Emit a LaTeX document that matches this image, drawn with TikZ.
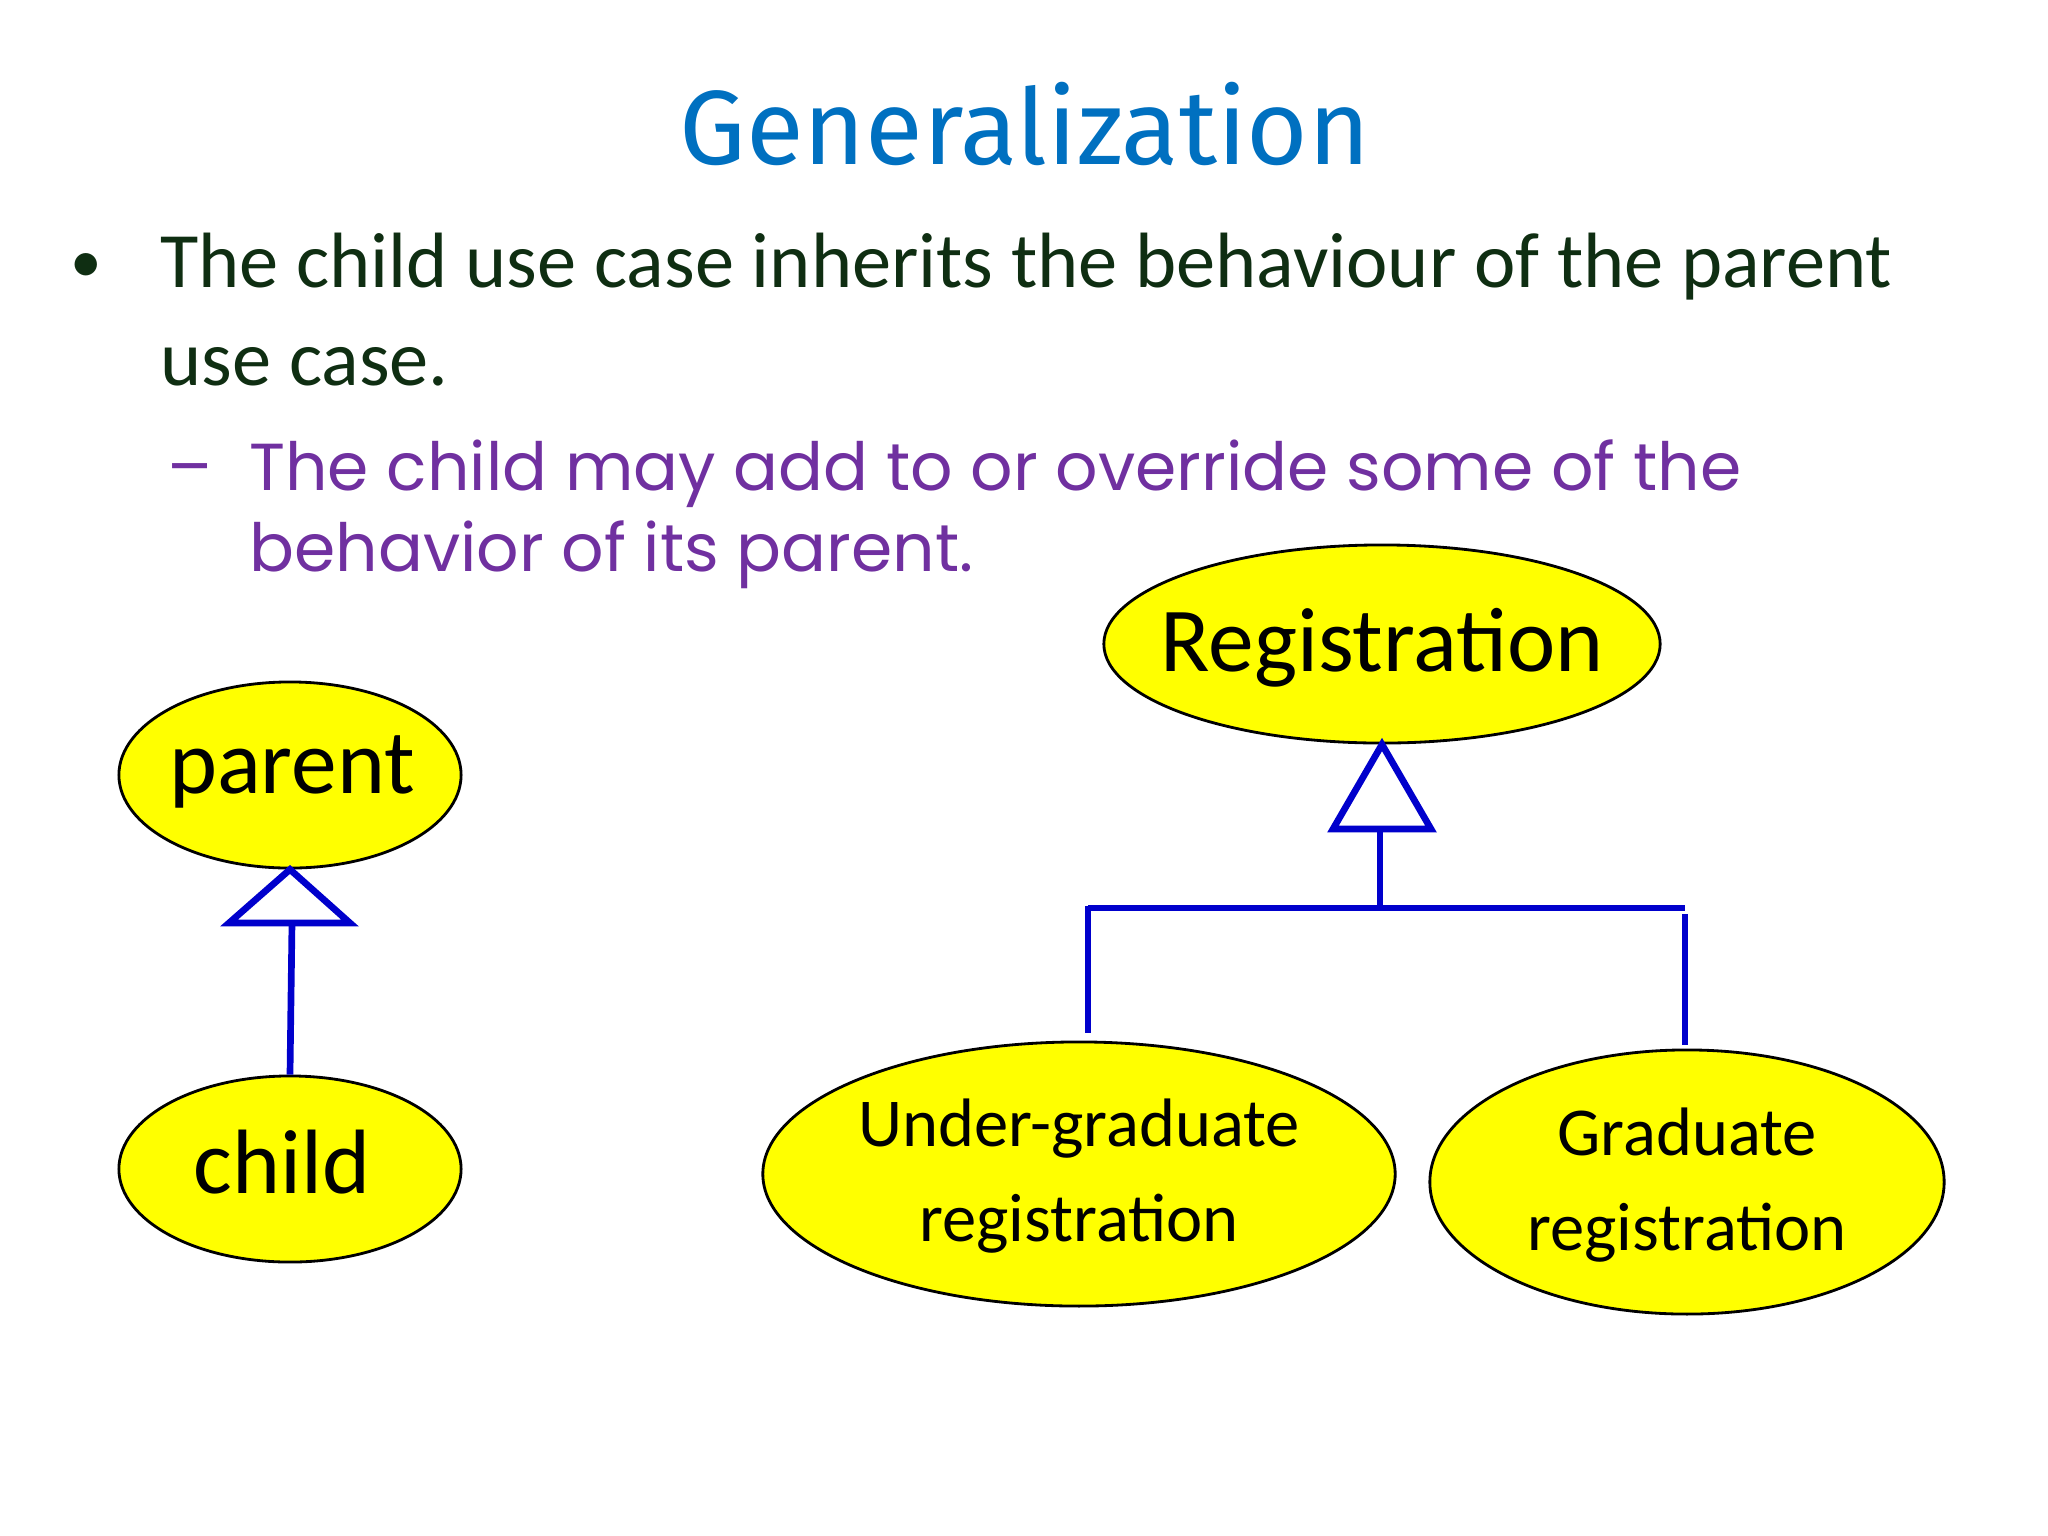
\documentclass[tikz,border=0pt]{standalone}
\usepackage{fontspec}
\setmainfont{Carlito}
\newfontfamily\titlefont{Fira Sans}
\newfontfamily\subfont{Poppins}
\usetikzlibrary{shapes.geometric}
\definecolor{ttl}{HTML}{0070C0}
\definecolor{grn}{HTML}{0F2E12}
\definecolor{purp}{HTML}{7030A0}
\definecolor{uml}{HTML}{0000CC}
\definecolor{yel}{HTML}{FFFF00}
\begin{document}
\begin{tikzpicture}[x=0.01cm,y=-0.01cm,
  uc/.style={ellipse,draw=black,fill=yel,line width=0.8pt,inner sep=0pt},
  lbl/.style={align=center,inner sep=0pt},
  gen/.style={draw=uml,line width=1.9pt},
  tri/.style={draw=uml,line width=1.9pt,fill=white,line join=miter}]
\useasboundingbox (0,0) rectangle (2048,1536);
\node[text=ttl,font=\titlefont\fontsize{30}{34}\selectfont] (title) at (1025,124) {Generalization};
\node[anchor=base west,text=grn,font=\fontsize{22.3}{26}\selectfont] (b1) at (148,287) {The child use case inherits the behaviour of the parent};
\node[anchor=base west,text=grn,font=\fontsize{22.3}{26}\selectfont] (b2) at (148,385) {use case.};
\node[anchor=base,text=grn,font=\fontsize{18}{22}\selectfont] (dot) at (86,282) {•};
\node[anchor=base west,text=purp,font=\subfont\fontsize{18.9}{22}\selectfont] (s1) at (237,490) {The child may add to or override some of the};
\node[anchor=base west,text=purp,font=\subfont\fontsize{18.9}{22}\selectfont] (s2) at (237,571) {behavior of its parent.};
\node[anchor=base,text=purp,font=\subfont\fontsize{18.9}{22}\selectfont] (dash) at (190,490) {–};

\node[uc,minimum width=3.42cm,minimum height=1.86cm] (parent) at (290,775) {};
\node[lbl,font=\fontsize{26}{30}\selectfont] (parentt) at (292,772) {parent};
\node[uc,minimum width=3.42cm,minimum height=1.86cm] (child) at (290,1169) {};
\node[lbl,font=\fontsize{26}{30}\selectfont] (childt) at (282,1162) {child};
\node[uc,minimum width=5.56cm,minimum height=1.98cm] (reg) at (1382,644) {};
\node[lbl,font=\fontsize{26}{30}\selectfont] (regt) at (1382,648) {Registration};
\node[uc,minimum width=6.32cm,minimum height=2.64cm] (ug) at (1079,1174) {};
\node[lbl,font=\fontsize{19.5}{27}\selectfont] (ugt) at (1079,1176) {Under-graduate\\registration};
\node[uc,minimum width=5.14cm,minimum height=2.64cm] (gr) at (1687,1182) {};
\node[lbl,font=\fontsize{19.5}{27}\selectfont] (grt) at (1687,1185) {Graduate\\registration};

% parent-child
\coordinate (pt) at (parent.south);
\draw[tri] (pt) -- (350,923) -- (229,923) -- cycle;
\draw[gen] (child.north) -- (292,923);
% registration tree
\coordinate (rt) at (reg.south);
\draw[tri] (rt) -- (1431,829) -- (1333,829) -- cycle;
\coordinate (j) at (1380,908);
\draw[gen] (1380,829) -- (j);
\draw[gen] (1088,908) -- (1685,908);
\draw[gen] (1088,906) -- (1088,1033);
\draw[gen] (1685,914) -- (1685,1045);
\end{tikzpicture}
\end{document}
